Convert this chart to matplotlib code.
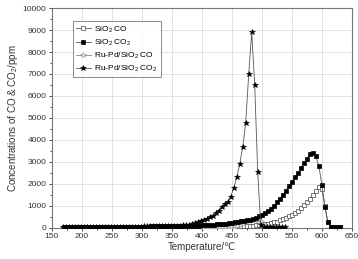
import numpy as np
import matplotlib
matplotlib.use('Agg')
from matplotlib import pyplot as plt

plt.rcParams['font.family'] = ['Liberation Sans', 'DejaVu Sans']
plt.rcParams['mathtext.fontset'] = 'custom'
plt.rcParams['mathtext.rm'] = 'Liberation Sans'
plt.rcParams['mathtext.it'] = 'Liberation Sans'

# temperatures for the SiO2 runs
temp_sio2 = [170, 175, 180, 185, 190, 195, 200, 205, 210, 215, 220, 225, 230, 235, 240,
             245, 250, 255, 260, 265, 270, 275, 280, 285, 290, 295, 300, 305, 310, 315,
             320, 325, 330, 335, 340, 345, 350, 355, 360, 365, 370, 375, 380, 385, 390,
             395, 400, 405, 410, 415, 420, 425, 430, 435, 440, 445, 450, 455, 460, 465,
             470, 475, 480, 485, 490, 495, 500, 505, 510, 515, 520, 525, 530, 535, 540,
             545, 550, 555, 560, 565, 570, 575, 580, 585, 590, 595, 600, 605, 610, 615,
             620, 625, 630]
sio2_co2 = [30, 30, 32, 32, 33, 34, 35, 36, 37, 38, 39, 40, 41, 42, 43,
            44, 45, 46, 47, 48, 49, 50, 52, 54, 56, 58, 60, 62, 64, 66,
            68, 70, 72, 74, 76, 78, 80, 83, 86, 89, 92, 95, 98, 101, 105,
            108, 112, 120, 130, 140, 150, 165, 180, 190, 200, 220, 240, 260, 280, 300,
            320, 350, 380, 420, 470, 530, 600, 680, 760, 870, 1000, 1160, 1330, 1510, 1700,
            1900, 2100, 2300, 2500, 2720, 2950, 3150, 3350, 3420, 3250, 2800, 1950, 950, 250, 40,
            20, 20, 20]
sio2_co = [20, 20, 20, 20, 20, 20, 20, 20, 20, 20, 20, 20, 20, 20, 20,
           20, 20, 20, 20, 20, 20, 20, 20, 20, 20, 20, 22, 22, 22, 22,
           22, 22, 24, 24, 24, 24, 25, 25, 26, 26, 27, 27, 28, 29, 30,
           31, 32, 34, 36, 38, 40, 42, 44, 46, 48, 50, 55, 60, 65, 72,
           80, 90, 100, 110, 120, 135, 150, 170, 200, 225, 250, 290, 340, 400, 470,
           530, 600, 690, 780, 900, 1030, 1180, 1330, 1500, 1680, 1850, 1750, 1000, 250, 40,
           20, 20, 20]

# temperatures for the Ru-Pd/SiO2 runs
temp_rupd = [168, 173, 178, 183, 188, 193, 198, 203, 208, 213, 218, 223, 228, 233, 238,
             243, 248, 253, 258, 263, 268, 273, 278, 283, 288, 293, 298, 303, 308, 313,
             318, 323, 328, 333, 338, 343, 348, 353, 358, 363, 368, 373, 378, 383, 388,
             393, 398, 403, 408, 413, 418, 423, 428, 433, 438, 443, 448, 453, 458, 463,
             468, 473, 478, 483, 488, 493, 498, 503, 508, 513, 518, 523, 528, 533, 538]
rupd_co2 = [40, 40, 41, 42, 42, 43, 44, 45, 46, 47, 48, 49, 50, 51, 52,
            53, 54, 55, 56, 57, 58, 59, 60, 61, 62, 63, 64, 66, 68, 70,
            72, 74, 76, 78, 80, 84, 88, 92, 97, 105, 115, 130, 150, 180, 210,
            250, 300, 350, 410, 480, 560, 660, 780, 950, 1100, 1200, 1420, 1800, 2300, 2900,
            3680, 4770, 7000, 8900, 6500, 2550, 130, 30, 20, 20, 20, 20, 20, 20, 20]
rupd_co = [15, 15, 15, 15, 15, 15, 15, 15, 15, 15, 15, 15, 15, 15, 15,
           15, 15, 15, 15, 15, 15, 15, 15, 15, 15, 15, 15, 15, 15, 15,
           15, 15, 15, 15, 15, 15, 16, 16, 17, 17, 18, 19, 20, 21, 22,
           24, 26, 28, 30, 33, 36, 40, 45, 50, 55, 62, 70, 80, 110, 150,
           200, 250, 300, 350, 380, 350, 250, 120, 50, 30, 20, 20, 20, 20, 20]

labels = ['SiO$_2$ CO', 'SiO$_2$ CO$_2$', 'Ru-Pd/SiO$_2$ CO', 'Ru-Pd/SiO$_2$ CO$_2$']

fig = plt.figure(figsize=(3.58, 2.59), dpi=100)
ax = fig.add_axes([0.145, 0.12, 0.838, 0.849])

line_c = '#555555'
ax.plot(temp_sio2, sio2_co, color=line_c, lw=0.6, marker='s', ms=3.2,
        mfc='white', mec='#444444', mew=0.5, label=labels[0], zorder=3)
ax.plot(temp_sio2, sio2_co2, color=line_c, lw=0.6, marker='s', ms=3.2,
        mfc='black', mec='black', mew=0.5, label=labels[1], zorder=4)
ax.plot(temp_rupd, rupd_co, color='#888888', lw=0.6, marker='*', ms=4,
        mfc='white', mec='#888888', mew=0.4, label=labels[2], zorder=3)
ax.plot(temp_rupd, rupd_co2, color=line_c, lw=0.6, marker='*', ms=4,
        mfc='black', mec='black', mew=0.4, label=labels[3], zorder=5)

ax.set_xlim(150, 650)
ax.set_ylim(0, 10000)
ax.set_xticks(np.arange(150, 651, 50))
ax.set_yticks(np.arange(0, 10001, 1000))
ax.set_xticks(np.arange(175, 650, 50), minor=True)
ax.set_yticks(np.arange(500, 10000, 1000), minor=True)
ax.grid(True, which='major', color='#dddddd', lw=0.6)
ax.set_axisbelow(True)
ax.tick_params(labelsize=6, length=2.5, width=0.6, colors='#333333', pad=1.5)
ax.tick_params(which='minor', length=1.5, width=0.5)
for s in ax.spines.values():
    s.set_color('#777777')
    s.set_linewidth(0.8)

ax.set_xlabel('Temperature/℃', fontsize=7, labelpad=1, color='#333333')
ax.set_ylabel('Concentrations of CO & CO$_2$/ppm', fontsize=7, labelpad=2, color='#333333')

leg = ax.legend(loc='upper left', bbox_to_anchor=(0.055, 0.96), fontsize=6,
                frameon=True, fancybox=False, edgecolor='#555555', handlelength=1.8,
                handletextpad=0.4, borderpad=0.4, labelspacing=0.35)
leg.get_frame().set_linewidth(0.6)

fig.savefig('out.png', dpi=100)
